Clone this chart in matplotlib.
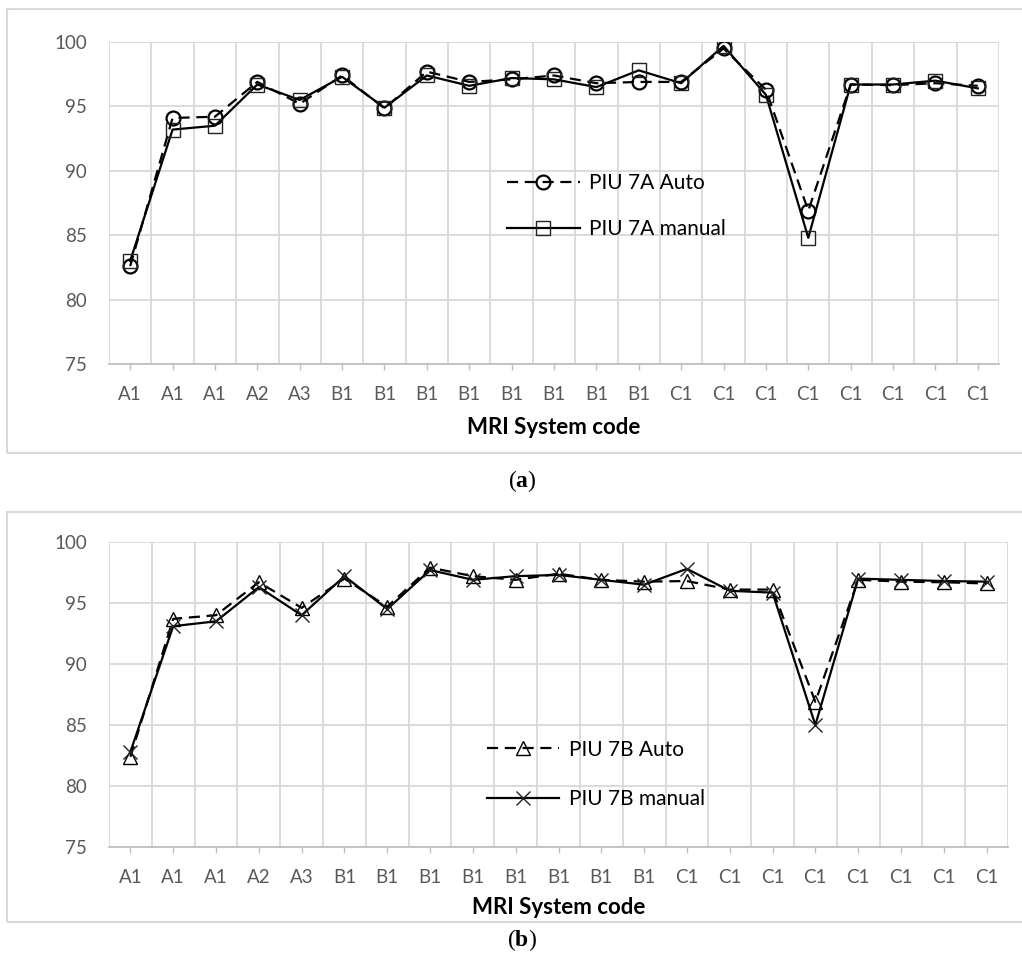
import matplotlib
matplotlib.use('Agg')
import matplotlib.pyplot as plt
from matplotlib.patches import Rectangle
import numpy as np

plt.rcParams['font.family'] = ['Lato', 'DejaVu Sans']
plt.rcParams['mathtext.fontset'] = 'custom'
plt.rcParams['mathtext.rm'] = 'Liberation Serif'
plt.rcParams['mathtext.bf'] = 'Liberation Serif:bold'

# MRI system codes (one per scanner)
codes = ['A1', 'A1', 'A1', 'A2', 'A3', 'B1', 'B1', 'B1', 'B1', 'B1', 'B1',
         'B1', 'B1', 'C1', 'C1', 'C1', 'C1', 'C1', 'C1', 'C1', 'C1']

# PIU 7A
piu7a_auto = [82.6, 94.1, 94.2, 96.9, 95.2, 97.4, 94.85, 97.7, 96.9, 97.1, 97.4,
              96.8, 96.9, 96.9, 99.5, 96.3, 86.9, 96.7, 96.65, 96.8, 96.6]
piu7a_manual = [83.0, 93.2, 93.5, 96.7, 95.5, 97.3, 94.9, 97.4, 96.6, 97.2, 97.1,
                96.5, 97.8, 96.8, 99.7, 95.9, 84.8, 96.7, 96.7, 97.0, 96.4]

# PIU 7B
piu7b_auto = [82.4, 93.7, 94.0, 96.7, 94.6, 97.0, 94.7, 97.9, 97.2, 96.9, 97.4,
              96.9, 96.75, 96.8, 96.1, 96.1, 86.9, 96.9, 96.75, 96.7, 96.6]
piu7b_manual = [82.8, 93.1, 93.5, 96.3, 94.0, 97.2, 94.5, 97.7, 96.9, 97.2, 97.3,
                96.9, 96.5, 97.8, 96.0, 95.85, 85.0, 97.0, 96.9, 96.8, 96.75]

GRID = '#d9d9d9'
TXT = '#595959'

W, H = 1022, 960
fig = plt.figure(figsize=(W / 100, H / 100), dpi=100)


def px_rect(x0, y0, x1, y1):
    # pixel box (top-left origin) -> figure fraction rect
    return [x0 / W, 1 - y1 / H, (x1 - x0) / W, (y1 - y0) / H]


def panel(rect, auto, manual, auto_lbl, man_lbl, auto_mk, man_mk, leg_pos, leg_sp):
    ax = fig.add_axes(rect)
    x = np.arange(len(codes))
    ax.plot(x, auto, color='black', lw=1.6, dashes=(5, 3), marker=auto_mk,
            ms=10, mfc='none', mec='black',
            mew=1.6 if auto_mk == 'o' else 1.0, label=auto_lbl, zorder=3)
    ax.plot(x, manual, color='black', lw=1.6, marker=man_mk, ms=10, mfc='none',
            mec='#222222', mew=1.0, label=man_lbl, zorder=4)

    ax.set_xlim(-0.5, len(codes) - 0.5)
    ax.set_ylim(75, 100)
    ax.set_yticks([75, 80, 85, 90, 95, 100])
    ax.set_xticks(x)
    ax.set_xticklabels(codes)
    # vertical grid on category boundaries
    ax.set_xticks(np.arange(-0.5, len(codes)), minor=True)
    ax.grid(axis='x', which='minor', color=GRID, lw=1.3)
    ax.grid(axis='y', which='major', color=GRID, lw=1.3)
    ax.set_axisbelow(True)
    for s in ['top', 'right', 'left']:
        ax.spines[s].set_visible(False)
    ax.spines['bottom'].set_color('#bfbfbf')
    ax.spines['bottom'].set_linewidth(1.3)
    ax.tick_params(axis='y', length=0, pad=16, labelsize=13.5, labelcolor=TXT)
    ax.tick_params(axis='x', which='major', length=4, width=1, color='#bfbfbf',
                   pad=12, labelsize=13.5, labelcolor=TXT)
    ax.tick_params(axis='x', which='minor', length=0)
    ax.set_xlabel('MRI System code', fontsize=16, fontweight='bold', labelpad=10)

    ax.legend(loc='upper left', bbox_to_anchor=leg_pos, frameon=False,
              fontsize=15, numpoints=1, handlelength=3.5, handletextpad=0.45,
              labelspacing=leg_sp, borderpad=0, borderaxespad=0)
    return ax


# outer frames
for y0, y1 in [(9, 453), (512, 922)]:
    fig.patches.append(Rectangle((7 / W, 1 - y1 / H), (1030 - 7) / W, (y1 - y0) / H,
                                 transform=fig.transFigure, fill=False,
                                 edgecolor=GRID, lw=1.5, zorder=0))

ax_a = panel(px_rect(109, 42, 999, 364), piu7a_auto, piu7a_manual,
             'PIU 7A Auto', 'PIU 7A manual', 'o', 's', (0.447, 0.593), 1.25)
ax_b = panel(px_rect(109, 542, 1008, 847), piu7b_auto, piu7b_manual,
             'PIU 7B Auto', 'PIU 7B manual', '^', 'x', (0.42, 0.352), 1.4)
ax_b.xaxis.labelpad = 8

fig.text(522 / W, 1 - 481 / H, r'$\mathrm{(}\mathbf{a}\mathrm{)}$', ha='center',
         va='center', fontsize=17)
fig.text(522 / W, 1 - 940 / H, r'$\mathrm{(}\mathbf{b}\mathrm{)}$', ha='center',
         va='center', fontsize=17)

fig.savefig('out.png', dpi=100)
